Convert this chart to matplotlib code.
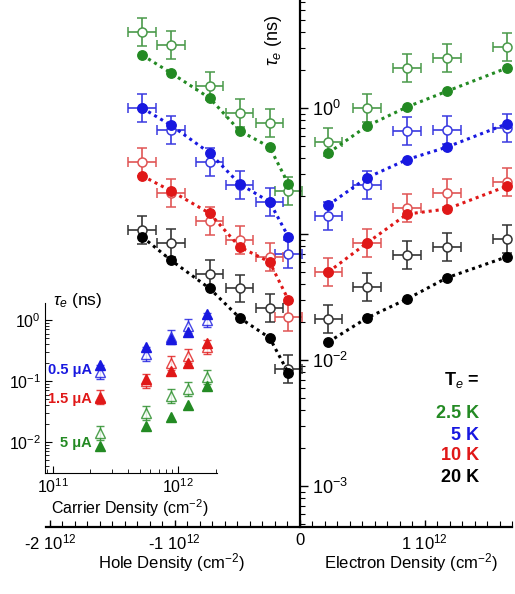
import numpy as np
import matplotlib
matplotlib.use("Agg")
import matplotlib.pyplot as plt
from matplotlib.ticker import FixedLocator, MultipleLocator, LogLocator, NullFormatter, FixedFormatter

plt.rcParams['font.family'] = ['Liberation Sans', 'DejaVu Sans']
plt.rcParams['mathtext.fontset'] = 'custom'
plt.rcParams['mathtext.rm'] = 'Liberation Sans'
plt.rcParams['mathtext.it'] = 'Liberation Sans:italic'
plt.rcParams['mathtext.bf'] = 'Liberation Sans:bold'
plt.rcParams['axes.unicode_minus'] = False

# ---------------- data (densities in units of 1e12 cm^-2, tau in ns) ----------------
temps = ['2.5 K', '5 K', '10 K', '20 K']
colors = ['#238a23', '#1818e0', '#e01818', '#000000']
open_colors = ['#4a9a4a', '#3a3ae0', '#e05555', '#333333']

hole_x = [-1.26, -1.03, -0.72, -0.48, -0.24, -0.09]
elec_x = [0.23, 0.54, 0.86, 1.18, 1.66]

hole_filled = {
    '2.5 K': [2.63, 1.9, 1.2, 0.66, 0.49, 0.25],
    '5 K':   [1.0, 0.73, 0.44, 0.25, 0.18, 0.095],
    '10 K':  [0.29, 0.22, 0.146, 0.079, 0.06, 0.03],
    '20 K':  [0.095, 0.062, 0.037, 0.0216, 0.015, 0.0079],
}
hole_open = {
    '2.5 K': [4.0, 3.16, 1.5, 0.91, 0.76, 0.22],
    '5 K':   [1.0, 0.67, 0.37, 0.245, 0.18, 0.069],
    '10 K':  [0.37, 0.21, 0.127, 0.09, 0.066, 0.022],
    '20 K':  [0.108, 0.085, 0.048, 0.037, 0.026, 0.0085],
}
elec_filled = {
    '2.5 K': [0.44, 0.72, 1.02, 1.36, 2.08],
    '5 K':   [0.17, 0.28, 0.39, 0.49, 0.75],
    '10 K':  [0.05, 0.085, 0.144, 0.158, 0.24],
    '20 K':  [0.0139, 0.0216, 0.0305, 0.045, 0.066],
}
elec_open = {
    '2.5 K': [0.54, 1.0, 2.08, 2.5, 3.05],
    '5 K':   [0.139, 0.245, 0.66, 0.67, 0.69],
    '10 K':  [0.05, 0.085, 0.16, 0.21, 0.26],
    '20 K':  [0.021, 0.038, 0.068, 0.079, 0.091],
}
x_err = 0.11          # 1e12 cm^-2
y_err_factor = 1.29   # multiplicative

# inset
currents = ['0.5 μA', '1.5 μA', '5 μA']
inset_colors = ['#1818e0', '#e01818', '#238a23']
inset_density = [0.24, 0.56, 0.88, 1.2, 1.7]   # 1e12 cm^-2
inset_filled = {
    '0.5 μA': [0.18, 0.36, 0.49, 0.63, 1.25],
    '1.5 μA': [0.053, 0.108, 0.146, 0.2, 0.42],
    '5 μA':   [0.0086, 0.018, 0.026, 0.04, 0.083],
}
inset_open = {
    '0.5 μA': [0.14, 0.28, 0.53, 0.8, 1.0],
    '1.5 μA': [0.055, 0.1, 0.2, 0.26, 0.36],
    '5 μA':   [0.014, 0.03, 0.056, 0.075, 0.117],
}
inset_err_factor = 1.3

main_xticks = [-2, -1, 0, 1]
main_xticklabels = ['-2 10$^{12}$', '-1 10$^{12}$', '0', '1 10$^{12}$']
main_yticks = [1e-3, 1e-2, 1e-1, 1e0]
main_yticklabels = ['10$^{-3}$', '10$^{-2}$', '', '10$^{0}$']

# ---------------- figure ----------------
W, H = 515, 594
fig = plt.figure(figsize=(W / 100, H / 100), dpi=100)

def fx(px):
    return px / W

def fy(py):
    return 1 - py / H

ax = fig.add_axes([fx(46), fy(527), fx(512) - fx(46), fy(0) - fy(527)])
ax.set_yscale('log')
ax.set_xlim(-2.03, 1.70)
ax.set_ylim(4.73e-4, 7.2)

for i, t in enumerate(temps):
    c = colors[i]
    oc = open_colors[i]
    for xs, yo, yf in ((hole_x, hole_open[t], hole_filled[t]), (elec_x, elec_open[t], elec_filled[t])):
        yo = np.array(yo)
        yerr = [yo - yo / y_err_factor, yo * y_err_factor - yo]
        ax.errorbar(xs, yo, xerr=x_err, yerr=yerr, fmt='o', ms=6.5, mfc='white', mec=oc,
                    mew=1.1, ecolor=oc, elinewidth=1.2, capsize=3.5, capthick=1.2, zorder=2)
        ax.plot(xs, yf, linestyle=(0, (1, 1.3)), color=c, lw=2.2, zorder=3)
        ax.plot(xs, yf, 'o', ms=6.8, color=c, mec=c, zorder=4)

for s in ['top', 'left']:
    ax.spines[s].set_visible(False)
ax.spines['right'].set_position(('data', 0))
ax.spines['right'].set_linewidth(1.6)
ax.spines['bottom'].set_linewidth(1.6)
ax.yaxis.tick_right()
ax.yaxis.set_major_locator(FixedLocator(main_yticks))
ax.yaxis.set_major_formatter(FixedFormatter(main_yticklabels))
ax.yaxis.set_minor_locator(LogLocator(base=10, subs=np.arange(2, 10)))
ax.yaxis.set_minor_formatter(NullFormatter())
ax.tick_params(axis='y', which='major', direction='out', length=6, width=1, labelsize=13, pad=3)
ax.tick_params(axis='y', which='minor', direction='out', length=3.5, width=0.8)

ax.xaxis.set_major_locator(FixedLocator(main_xticks))
ax.xaxis.set_major_formatter(FixedFormatter(main_xticklabels))
ax.xaxis.set_minor_locator(MultipleLocator(0.1))
ax.tick_params(axis='x', which='major', direction='in', length=5, width=1, labelsize=12, pad=4)
ax.tick_params(axis='x', which='minor', direction='in', length=4, width=0.8)
ax.set_facecolor('none')

# axis labels
fig.text(fx(171), fy(568), 'Hole Density (cm$^{-2}$)', ha='center', va='baseline', fontsize=12)
fig.text(fx(411), fy(568), 'Electron Density (cm$^{-2}$)', ha='center', va='baseline', fontsize=12)
fig.text(fx(273), fy(40), r'$\tau_e$ (ns)', ha='center', va='center', fontsize=13, rotation=90)

# temperature legend text
fig.text(fx(479), fy(380), r'$\mathit{\mathbf{T}}_{e}$ =', ha='right', va='center', fontsize=13, fontweight='bold')
ys = [413, 435, 456, 478]
for i, t in enumerate(temps):
    fig.text(fx(479), fy(ys[i]), t, ha='right', va='center', fontsize=13, fontweight='bold', color=colors[i])

# ---------------- inset ----------------
ax2 = fig.add_axes([fx(45), fy(473), fx(217) - fx(45), fy(303) - fy(473)])
ax2.set_xscale('log')
ax2.set_yscale('log')
ax2.set_xlim(10 ** 10.94, 10 ** 12.31)
ax2.set_ylim(10 ** -2.51, 10 ** 0.28)
ax2.set_facecolor('none')
ix = np.array(inset_density) * 1e12
for i, cur in enumerate(currents):
    c = inset_colors[i]
    yo = np.array(inset_open[cur])
    yerr = [yo - yo / inset_err_factor, yo * inset_err_factor - yo]
    ax2.errorbar(ix, yo, yerr=yerr, fmt='^', ms=7, mfc='white', mec=c, mew=1.0, ecolor=c,
                 elinewidth=1.0, capsize=3, capthick=1.0, alpha=0.8, zorder=2)
    ax2.plot(ix, inset_filled[cur], '^', ms=7.5, color=c, zorder=3)
for s in ['top', 'right']:
    ax2.spines[s].set_visible(False)
ax2.xaxis.set_major_locator(LogLocator(base=10, numticks=5))
ax2.xaxis.set_minor_locator(LogLocator(base=10, subs=np.arange(2, 10), numticks=10))
ax2.xaxis.set_minor_formatter(NullFormatter())
ax2.yaxis.set_major_locator(LogLocator(base=10, numticks=6))
ax2.yaxis.set_minor_locator(LogLocator(base=10, subs=np.arange(2, 10), numticks=10))
ax2.yaxis.set_minor_formatter(NullFormatter())
ax2.tick_params(which='major', direction='in', length=5, width=0.8, labelsize=11.5)
ax2.tick_params(which='minor', direction='in', length=3, width=0.6)
ax2.tick_params(axis='x', pad=3)
ax2.tick_params(axis='y', pad=3)
fig.text(fx(130), fy(508), 'Carrier Density (cm$^{-2}$)', ha='center', va='center', fontsize=11.5)
fig.text(fx(53), fy(300), r'$\tau_e$ (ns)', ha='left', va='center', fontsize=12.5)
lab_y = [370, 399, 443]
for i, cur in enumerate(currents):
    fig.text(fx(92), fy(lab_y[i]), cur, ha='right', va='center', fontsize=10.5,
             fontweight='bold', color=inset_colors[i])

fig.savefig('out.png', dpi=100)
